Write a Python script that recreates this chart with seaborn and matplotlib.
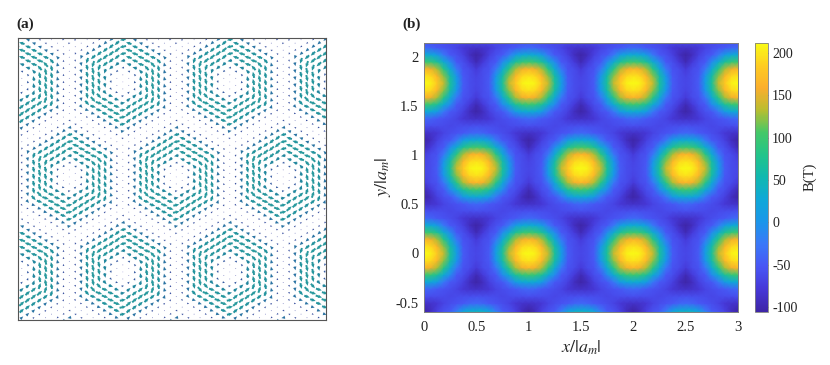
import numpy as np
import pandas as pd
import seaborn as sns
import matplotlib
matplotlib.use("Agg")
import matplotlib.pyplot as plt

# field: lower half of a quarter of the repeating cell, B in tesla
# columns x = 0 .. 0.5 step 0.0625, rows y = 0 .. 0.433 step 0.0722
b_quarter = [
    [212, 206, 182, 140, 70, 12, -48, -60, -65],
    [198, 192, 165, 122, 60, 0, -50, -60, -68],
    [165, 155, 130, 85, 30, -25, -55, -62, -76],
    [100, 92, 70, 32, -10, -50, -59, -78, -98],
    [30, 25, 8, -25, -50, -58, -72, -92, -106],
    [-38, -42, -50, -55, -60, -68, -80, -85, -88],
    [-58, -60, -60, -62, -65, -62, -60, -60, -58],
]

# arrows: relative length and direction in degrees
# x step 1/18, y step 0.0321, even rows start at x = 0, odd rows at x = 1/18
arrow_speed = [
    [0.00, 0.36, 0.90, 0.85, 0.30],
    [0.10, 0.69, 0.99, 0.55, 0.12],
    [0.10, 0.36, 0.90, 0.85, 0.30],
    [0.36, 0.69, 0.99, 0.55, 0.12],
    [0.36, 0.69, 0.90, 0.85, 0.30],
    [0.69, 0.90, 0.99, 0.55, 0.12],
    [0.69, 0.90, 0.99, 0.85, 0.30],
    [0.90, 0.99, 0.85, 0.55, 0.12],
    [0.90, 0.99, 0.85, 0.55, 0.30],
    [0.99, 0.85, 0.55, 0.30, 0.12],
    [0.99, 0.85, 0.55, 0.30, 0.12],
    [0.85, 0.55, 0.30, 0.12, 0.30],
    [0.85, 0.55, 0.30, 0.12, 0.30],
    [0.55, 0.30, 0.12, 0.30, 0.55],
]
arrow_angle = [
    [90, 90, 90, 90, 90],
    [120, 90, 90, 90, 90],
    [180, 120, 90, 90, 90],
    [150, 120, 90, 90, 90],
    [180, 150, 120, 90, 90],
    [150, 150, 120, 90, 90],
    [180, 150, 150, 120, 90],
    [150, 150, 150, 120, 90],
    [180, 150, 150, 150, 120],
    [150, 150, 150, 150, 120],
    [180, 150, 150, 150, 150],
    [150, 150, 150, 150, 0],
    [180, 150, 150, 150, 330],
    [150, 150, 150, 330, 0],
]
arrow_tilt = 12

parula = ["#3e26a8", "#4638d8", "#4856f5", "#3a78f8", "#1a96ea", "#0fa8d8", "#10b8b0",
          "#22c48a", "#44c868", "#b8be30", "#fbae2c", "#ffcc22", "#f9fb15"]
arrow_colors = ["#b4b1e0", "#3c4a9e", "#2f6ea5", "#1f8f9c", "#2a9a9e"]
x_ticks = [0, 0.5, 1, 1.5, 2, 2.5, 3]
y_ticks = [-0.5, 0, 0.5, 1, 1.5, 2]
y_tick_labels = ["-0.5", "0", "0.5", "1", "1.5", "2"]
x_tick_labels = ["0", "0.5", "1", "1.5", "2", "2.5", "3"]
cbar_ticks = [-100, -50, 0, 50, 100, 150, 200]

sns.set_style("white")
plt.rcParams["font.family"] = ["Liberation Serif", "DejaVu Serif"]
plt.rcParams["mathtext.fontset"] = "stix"
grey = "#7f7f7f"

fig = plt.figure(figsize=(8.3, 3.65), dpi=100)


def box(left, top, right, bottom):
    return [left / 830, 1 - bottom / 365, (right - left) / 830, (bottom - top) / 365]


ax_a = fig.add_axes(box(18, 38, 326, 320))
ax_b = fig.add_axes(box(424, 43, 738, 311.5))
cax = fig.add_axes(box(754.5, 43, 768, 311.5))

# panel a: upper rows come from the point symmetry between the two vortices
speed_rows = arrow_speed + [r[::-1] for r in arrow_speed[::-1]]
angle_rows = arrow_angle + [[a + 180 for a in r[::-1]] for r in arrow_angle[::-1]]
dx_a, dy_a = 1 / 18, 0.866 / 27
xs, ys, us, vs = [], [], [], []
for j, (sp, an) in enumerate(zip(speed_rows, angle_rows)):
    for i, (s, a) in enumerate(zip(sp, an)):
        col = 2 * i + j % 2
        u = s * np.cos(np.radians(a))
        v = s * np.sin(np.radians(a))
        # the other quarters are mirrors of the vortex
        for sx in (1, -1):
            for sy in (1, -1):
                if sx == -1 and col in (0, 9):
                    continue
                if sy == -1 and j in (0, 27):
                    continue
                xs.append(sx * col * dx_a)
                ys.append(sy * j * dy_a)
                us.append(sy * u)
                vs.append(sx * v)
xs, ys, us, vs = map(np.array, (xs, ys, us, vs))

# arrows lean a little off the ring
tilt = np.radians(arrow_tilt)
us, vs = us * np.cos(tilt) - vs * np.sin(tilt), us * np.sin(tilt) + vs * np.cos(tilt)

X_a, Y_a, U_a, V_a = [], [], [], []
for nx in range(-1, 3):
    for ny in range(-2, 1):
        X_a.append(xs + nx)
        Y_a.append(ys + ny * 1.732)
        U_a.append(us)
        V_a.append(vs)
X_a, Y_a, U_a, V_a = map(np.concatenate, (X_a, Y_a, U_a, V_a))
ax_a.quiver(X_a, Y_a, U_a, V_a, np.hypot(U_a, V_a),
            cmap=sns.blend_palette(arrow_colors, as_cmap=True), clim=(0, 1),
            angles="uv", scale=16, scale_units="xy", pivot="mid",
            units="dots", width=2.0, headwidth=1.8, headlength=2.0, headaxislength=1.8,
            minlength=0.5)
ax_a.set_xlim(-0.98, 1.90)
ax_a.set_ylim(-2.17, 0.40)
ax_a.set_xticks([])
ax_a.set_yticks([])
for s in ax_a.spines.values():
    s.set_visible(True)
    s.set_color("#555555")
    s.set_linewidth(0.8)

# panel b
b_half = np.array(b_quarter, dtype=float)
b_half = np.vstack([b_half, b_half[5::-1, ::-1]])
b_half = np.hstack([b_half, b_half[:, 7:0:-1]])
b_cell = np.vstack([b_half, b_half[11:0:-1]])
dx_b, dy_b = 0.0625, 0.0722
cols_b = np.arange(49)
rows_b = np.arange(-9, 31)
table = pd.DataFrame(b_cell[np.ix_(rows_b % 24, cols_b % 16)])

sns.heatmap(table, ax=ax_b, cbar_ax=cax, cmap=sns.blend_palette(parula, as_cmap=True),
            vmin=-105.5, vmax=212, shading="gouraud", xticklabels=False, yticklabels=False)


def y_pos(y):
    return y / dy_b - rows_b[0]


ax_b.set_xlim(0, 48)
ax_b.set_ylim(y_pos(-0.59), y_pos(2.14))
ax_b.set_xticks([x / dx_b for x in x_ticks])
ax_b.set_xticklabels(x_tick_labels, fontsize=10.5)
ax_b.set_yticks([y_pos(y) for y in y_ticks])
ax_b.set_yticklabels(y_tick_labels, fontsize=10.5)
ax_b.tick_params(axis="x", length=0, pad=7, colors="#222222")
ax_b.tick_params(axis="y", length=0, pad=4, colors="#222222")
ax_b.set_xlabel(r"$x/|a_m|$", fontsize=13, labelpad=3)
ax_b.set_ylabel(r"$y/|a_m|$", fontsize=13, labelpad=2)
for s in ax_b.spines.values():
    s.set_visible(True)
    s.set_color(grey)
    s.set_linewidth(0.7)

cbar = ax_b.collections[0].colorbar
cbar.set_ticks(cbar_ticks)
cbar.set_ticklabels([str(t) for t in cbar_ticks])
cbar.ax.tick_params(length=2, width=0.5, direction="in", labelsize=10, pad=3, colors="#222222")
cbar.outline.set_linewidth(0.6)
cbar.outline.set_edgecolor(grey)
cbar.set_label("B(T)", fontsize=10.5, labelpad=4)

fig.text(16 / 830, 1 - 28 / 365, "(a)", fontsize=11, fontweight="bold", color="#222222")
fig.text(402 / 830, 1 - 28 / 365, "(b)", fontsize=11, fontweight="bold", color="#222222")

fig.savefig("out.png", dpi=100)
